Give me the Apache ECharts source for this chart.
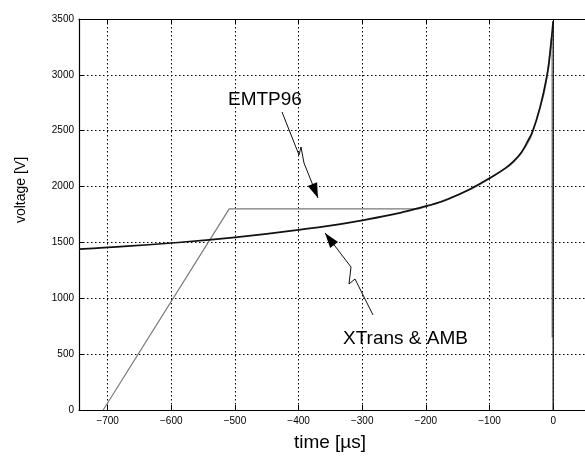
<!DOCTYPE html>
<html><head><meta charset="utf-8">
<script src="https://cdn.jsdelivr.net/npm/echarts@6/dist/echarts.min.js"></script>
<style>html,body{margin:0;padding:0;background:#fff}#c{width:585px;height:458px}</style>
</head><body><div id="c"></div>
<script>
// ---- data ----
const xTicks = [-700, -600, -500, -400, -300, -200, -100, 0];
const yTicks = [0, 500, 1000, 1500, 2000, 2500, 3000, 3500];
// XTrans & AMB (black curve)
const xtransTime = [-745, -700, -600, -500, -400, -300, -200, -150, -100, -75, -59, -50, -41, -32, -21, -9.5, -5, -1, 0];
const xtransVolt = [1440, 1455, 1495, 1545, 1612, 1697, 1825, 1925, 2075, 2165, 2245, 2305, 2395, 2500, 2700, 3000, 3190, 3420, 3480];
const xtransDropTime = [0, 0];
const xtransDropVolt = [3480, 0];
// EMTP96 (grey line)
const emtpTime = [-707, -509, -212];
const emtpVolt = [0, 1800, 1800];
const emtpTailTime = [-212, -150, -100, -50, -21, -9.5, -3, -1.5];
const emtpTailVolt = [1800, 1925, 2075, 2305, 2700, 3000, 3330, 650];

const pairs = (a, b) => a.map((v, i) => [v, b[i]]);
const minus = v => String(v).replace('-', '\u2212');

const chart = echarts.init(document.getElementById('c'), null, {renderer: 'canvas'});
const tickFont = {fontFamily: 'Liberation Sans, Arial, sans-serif', fontSize: 10, color: '#000'};
const gridLine = {show: true, lineStyle: {color: '#000', width: 1, type: [1.5, 2.5]}};

function arrowHead(tip, from, len, half) {
  const dx = tip[0] - from[0], dy = tip[1] - from[1];
  const L = Math.hypot(dx, dy), ux = dx / L, uy = dy / L;
  const bx = tip[0] - ux * len, by = tip[1] - uy * len;
  return [tip, [bx - uy * half, by + ux * half], [bx + uy * half, by - ux * half]];
}
const annoFont = 'Liberation Sans, Arial, sans-serif';
const emtpArrow = [[282, 112], [299, 155], [301, 147], [304, 163], [318, 198]];
const xtArrow = [[373, 315], [355, 279], [349, 284], [351, 267], [325, 233]];

const xCommon = {
  type: 'value', min: -745, max: 50,
  axisLine: {show: true, onZero: false, lineStyle: {color: '#000', width: 1.2}},
  axisTick: {show: true, inside: true, length: 5, customValues: xTicks, lineStyle: {color: '#000'}}
};

chart.setOption({
  animation: false,
  backgroundColor: '#fff',
  grid: {left: 79, top: 19, width: 511.5, height: 391, containLabel: false},
  xAxis: [Object.assign({}, xCommon, {
    position: 'bottom',
    axisLabel: {show: true, margin: 6, customValues: xTicks, ...tickFont, formatter: v => minus(v)},
    splitLine: gridLine
  }), Object.assign({}, xCommon, {
    position: 'top',
    axisLabel: {show: false}, splitLine: {show: false}
  })],
  yAxis: {
    type: 'value', min: 0, max: 3500, interval: 500,
    axisLine: {show: true, onZero: false, lineStyle: {color: '#000', width: 1.2}},
    axisTick: {show: true, inside: true, length: 5, lineStyle: {color: '#000'}},
    axisLabel: {margin: 5, ...tickFont, formatter: v => yTicks.includes(v) ? String(v) : ''},
    splitLine: gridLine
  },
  series: [
    {type: 'line', name: 'EMTP96', data: pairs(emtpTime, emtpVolt), showSymbol: false, symbol: 'none',
      lineStyle: {color: '#7a7a7a', width: 1.2}, z: 2},
    {type: 'line', name: 'EMTP96 tail', data: pairs(emtpTailTime, emtpTailVolt), showSymbol: false, symbol: 'none',
      smooth: 0.5, lineStyle: {color: '#9a9a9a', width: 1.6}, z: 2},
    {type: 'line', name: 'XTrans & AMB', data: pairs(xtransTime, xtransVolt), showSymbol: false, symbol: 'none',
      smooth: 0.5, lineStyle: {color: '#111', width: 1.7}, z: 3},
    {type: 'line', name: 'XTrans & AMB drop', data: pairs(xtransDropTime, xtransDropVolt), showSymbol: false, symbol: 'none',
      lineStyle: {color: '#111', width: 1.3}, z: 3}
  ],
  graphic: [
    {type: 'text', x: 21, y: 190, rotation: Math.PI / 2,
      style: {text: 'voltage [V]', font: '14px ' + annoFont, fill: '#000', align: 'center', verticalAlign: 'middle'}},
    {type: 'text', x: 330, y: 443,
      style: {text: 'time [\u00b5s]', font: '19px ' + annoFont, fill: '#000', align: 'center', verticalAlign: 'middle'}},
    {type: 'text', x: 228, y: 100,
      style: {text: 'EMTP96', font: '19px ' + annoFont, fill: '#000', align: 'left', verticalAlign: 'middle'}},
    {type: 'text', x: 343, y: 339,
      style: {text: 'XTrans & AMB', font: '19px ' + annoFont, fill: '#000', align: 'left', verticalAlign: 'middle'}},
    {type: 'polyline', shape: {points: emtpArrow}, style: {stroke: '#111', lineWidth: 1, fill: null}, z: 10},
    {type: 'polygon', shape: {points: arrowHead(emtpArrow[4], emtpArrow[3], 15, 5)}, style: {fill: '#000'}, z: 10},
    {type: 'polyline', shape: {points: xtArrow}, style: {stroke: '#111', lineWidth: 1, fill: null}, z: 10},
    {type: 'polygon', shape: {points: arrowHead(xtArrow[4], xtArrow[3], 15, 5)}, style: {fill: '#000'}, z: 10}
  ]
});
</script></body></html>
